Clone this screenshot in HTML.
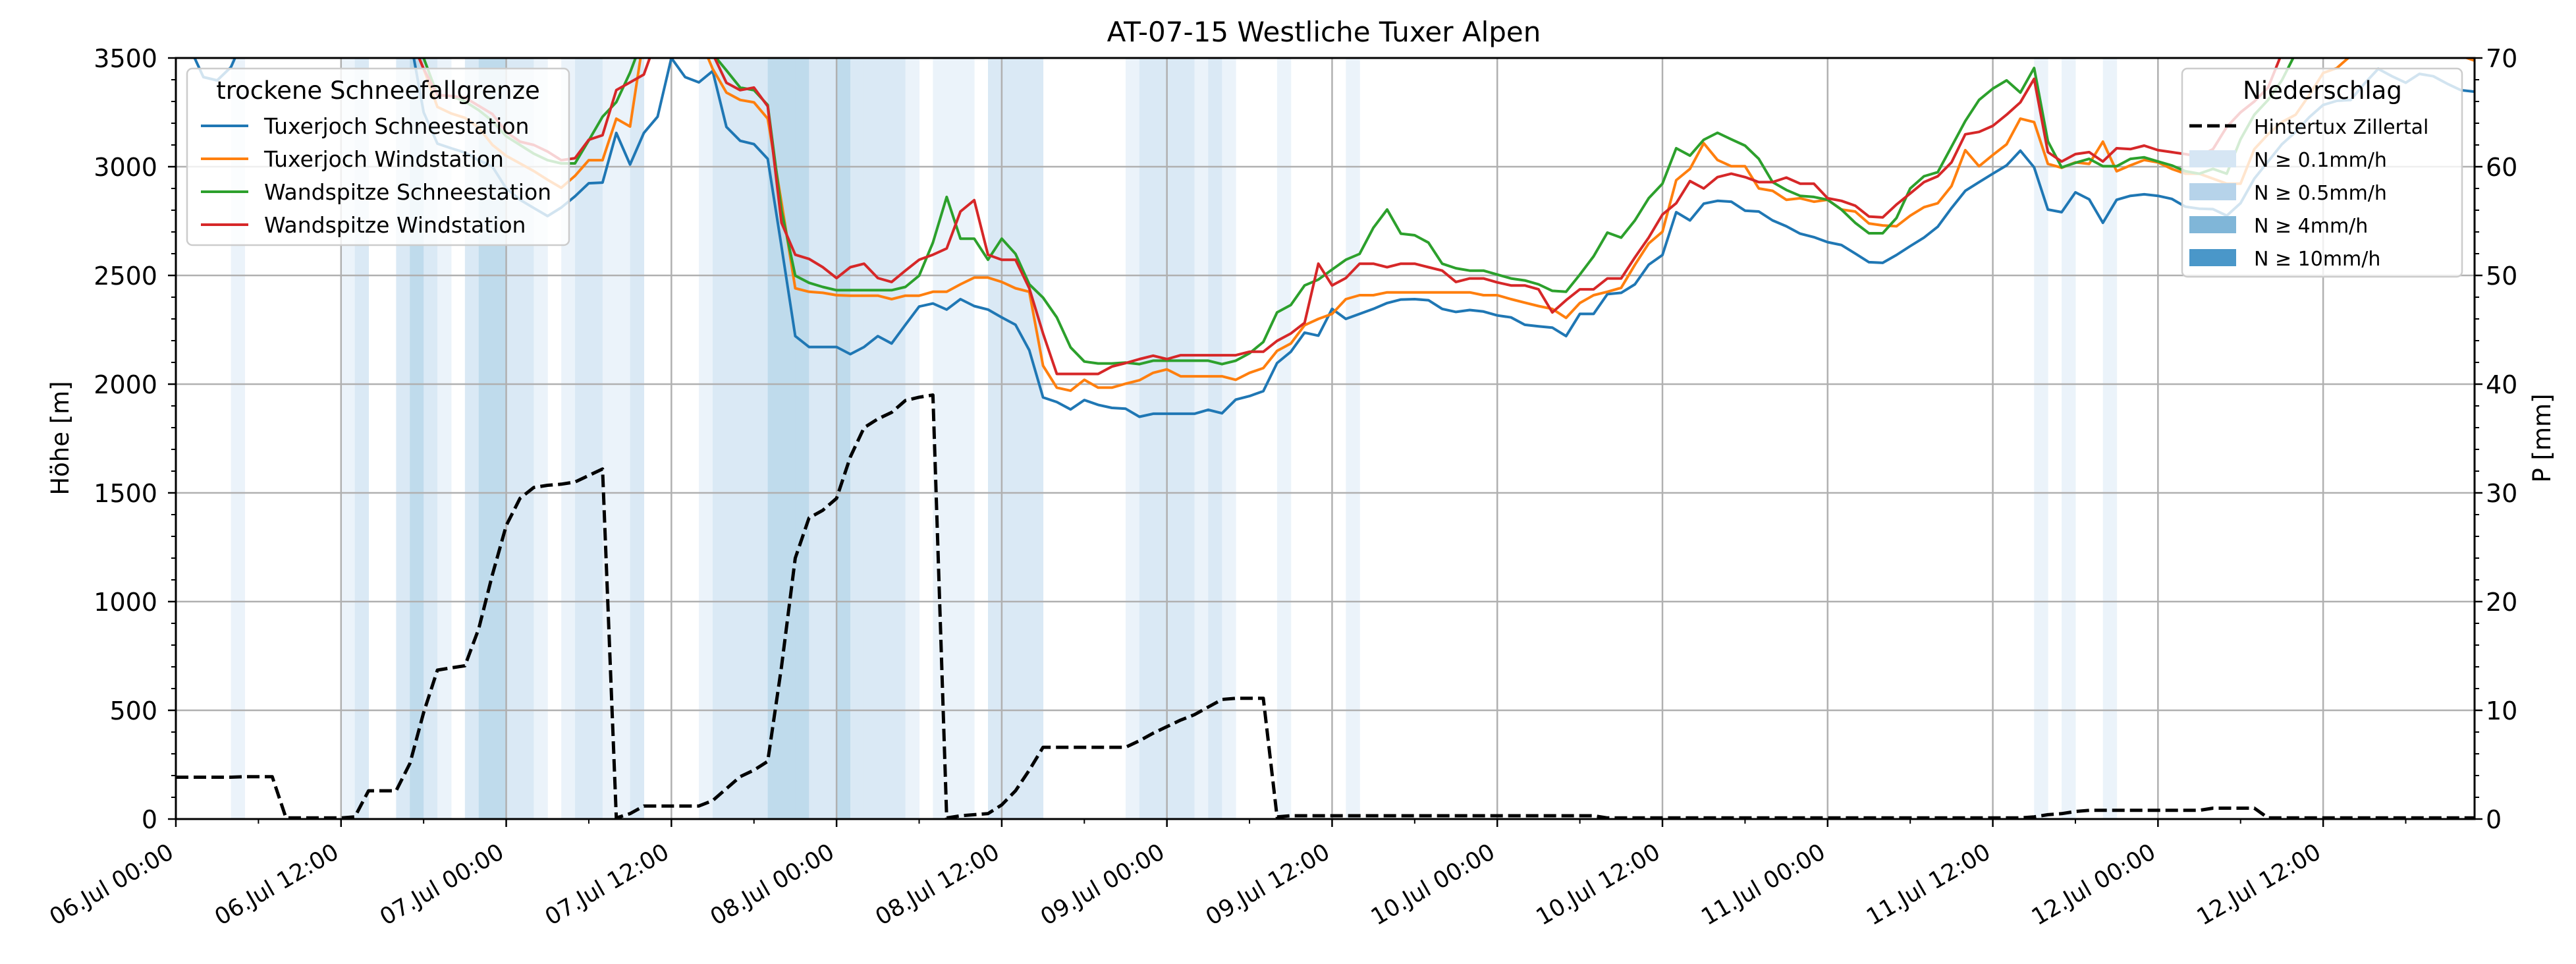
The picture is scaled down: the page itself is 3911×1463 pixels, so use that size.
<!DOCTYPE html>
<html><head><meta charset="utf-8"><title>AT-07-15 Westliche Tuxer Alpen</title>
<style>
html,body{margin:0;padding:0;background:#fff;}
svg{display:block;font-family:"DejaVu Sans","Liberation Sans",sans-serif;}
</style></head>
<body>
<svg id="chart" width="3911" height="1463" viewBox="0 0 3911 1463" xmlns="http://www.w3.org/2000/svg">
<defs><clipPath id="plotclip"><rect x="267" y="88" width="3490" height="1155"/></clipPath></defs>
<rect x="0" y="0" width="3911" height="1463" fill="#fff"/>
<text x="2010" y="63" font-size="42" text-anchor="middle">AT-07-15 Westliche Tuxer Alpen</text>
<g id="spans" clip-path="url(#plotclip)"></g>
<g id="grid"></g>
<g id="series" clip-path="url(#plotclip)"></g>
<g id="axes"></g>
<text x="0" y="0" font-size="37" text-anchor="middle" transform="translate(104,665) rotate(-90)">Höhe [m]</text>
<text x="0" y="0" font-size="37" text-anchor="middle" transform="translate(3872,665) rotate(-90)">P [mm]</text>

<g>
<rect x="284" y="104" width="580" height="268" rx="8" fill="#fff" fill-opacity="0.8" stroke="#cccccc" stroke-width="2.5"/>
<text x="574" y="150" font-size="37" text-anchor="middle">trockene Schneefallgrenze</text>
<g><line x1="305" y1="191" x2="377" y2="191" stroke="#1f77b4" stroke-width="4"/><text x="401" y="203" font-size="33">Tuxerjoch Schneestation</text></g>
<g><line x1="305" y1="241" x2="377" y2="241" stroke="#ff7f0e" stroke-width="4"/><text x="401" y="253" font-size="33">Tuxerjoch Windstation</text></g>
<g><line x1="305" y1="291" x2="377" y2="291" stroke="#2ca02c" stroke-width="4"/><text x="401" y="303" font-size="33">Wandspitze Schneestation</text></g>
<g><line x1="305" y1="341" x2="377" y2="341" stroke="#d62728" stroke-width="4"/><text x="401" y="353" font-size="33">Wandspitze Windstation</text></g>
</g>

<g>
<rect x="3313" y="104" width="425" height="316" rx="8" fill="#fff" fill-opacity="0.8" stroke="#cccccc" stroke-width="2.5"/>
<text x="3526" y="150" font-size="37" text-anchor="middle">Niederschlag</text>
<g><line x1="3324" y1="191" x2="3395" y2="191" stroke="#000" stroke-width="5" stroke-dasharray="19,8"/><text x="3422" y="203" font-size="30">Hintertux Zillertal</text></g>
<g><rect x="3324" y="228" width="71" height="26" fill="#d6e6f4"/><text x="3422" y="253" font-size="30">N ≥ 0.1mm/h</text></g>
<g><rect x="3324" y="278" width="71" height="26" fill="#b6d3ea"/><text x="3422" y="303" font-size="30">N ≥ 0.5mm/h</text></g>
<g><rect x="3324" y="328" width="71" height="26" fill="#80b6d8"/><text x="3422" y="353" font-size="30">N ≥ 4mm/h</text></g>
<g><rect x="3324" y="378" width="71" height="26" fill="#4a97c9"/><text x="3422" y="403" font-size="30">N ≥ 10mm/h</text></g>
</g>
</svg>
<script>
const hours = Array.from({length:168},(_, i)=>i);
const yTicks = [0,500,1000,1500,2000,2500,3000,3500];
const y2Ticks = [0,10,20,30,40,50,60,70];
const xTickHours = [0,12,24,36,48,60,72,84,96,108,120,132,144,156];
const xTickLabels = ["06.Jul 00:00","06.Jul 12:00","07.Jul 00:00","07.Jul 12:00","08.Jul 00:00","08.Jul 12:00","09.Jul 00:00","09.Jul 12:00","10.Jul 00:00","10.Jul 12:00","11.Jul 00:00","11.Jul 12:00","12.Jul 00:00","12.Jul 12:00"];

const tuxSchnee = [
3600,3550,3412,3397,3458,3600,3600,3600,3600,3600,3600,3600,
3600,3600,3600,3600,3600,3600,3250,3106,3085,3065,3030,3000,
2900,2848,2810,2773,2812,2864,2924,2927,3155,3010,3155,3230,
3500,3412,3388,3440,3183,3119,3104,3036,2633,2221,2171,2171,
2171,2138,2171,2221,2187,2273,2357,2371,2343,2391,2359,2343,
2307,2273,2156,1939,1918,1884,1927,1905,1891,1887,1850,1864,
1864,1864,1864,1882,1866,1929,1945,1968,2097,2149,2237,2223,
2346,2300,2323,2346,2373,2389,2391,2386,2346,2332,2341,2334,
2316,2307,2273,2266,2260,2221,2323,2323,2414,2420,2459,2549,
2594,2791,2753,2830,2843,2839,2798,2794,2753,2726,2692,2676,
2653,2640,2601,2561,2558,2594,2635,2674,2724,2810,2889,2929,
2968,3006,3074,2997,2803,2791,2882,2850,2742,2848,2866,2873,
2866,2852,2816,2807,2805,2775,2832,2945,3024,3103,3160,3228,
3284,3303,3307,3382,3450,3416,3386,3427,3416,3382,3352,3345];
const tuxWind = [
3600,3600,3600,3600,3600,3600,3600,3600,3600,3600,3600,3600,
3600,3600,3600,3600,3600,3600,3450,3275,3245,3225,3180,3100,
3050,3015,2980,2940,2903,2958,3030,3030,3221,3185,3600,3600,
3600,3600,3600,3450,3341,3307,3296,3221,2836,2441,2425,2420,
2409,2407,2407,2407,2391,2407,2407,2425,2425,2459,2490,2490,
2470,2441,2425,2085,1984,1970,2020,1984,1984,2002,2018,2052,
2068,2036,2036,2036,2036,2020,2052,2074,2153,2187,2271,2300,
2323,2391,2409,2409,2422,2422,2422,2422,2422,2422,2422,2409,
2409,2391,2375,2359,2346,2305,2373,2409,2425,2443,2549,2647,
2701,2938,2990,3108,3031,3002,3002,2900,2889,2848,2855,2839,
2848,2803,2794,2739,2730,2726,2775,2814,2832,2911,3076,3002,
3054,3103,3221,3205,3013,2995,3020,3013,3115,2979,3006,3031,
3020,2990,2968,2968,2945,2922,2922,3081,3149,3205,3239,3330,
3431,3454,3510,3600,3600,3600,3600,3600,3600,3600,3510,3488];
const wandSchnee = [
3600,3600,3600,3600,3600,3600,3600,3600,3600,3600,3600,3600,
3600,3600,3600,3600,3600,3600,3500,3330,3325,3300,3260,3210,
3140,3100,3060,3030,3015,3015,3121,3230,3297,3433,3600,3600,
3600,3600,3600,3520,3443,3364,3352,3284,2798,2499,2466,2447,
2432,2432,2432,2432,2432,2447,2499,2651,2861,2669,2669,2572,
2669,2599,2459,2398,2307,2169,2104,2095,2095,2099,2092,2108,
2108,2108,2108,2108,2092,2108,2142,2194,2330,2364,2454,2481,
2527,2572,2599,2719,2803,2692,2685,2651,2554,2533,2522,2522,
2504,2486,2477,2459,2429,2425,2504,2588,2697,2674,2753,2855,
2922,3085,3051,3124,3156,3126,3097,3036,2929,2893,2866,2861,
2848,2803,2742,2694,2694,2764,2900,2956,2975,3092,3210,3307,
3359,3397,3341,3454,3117,2997,3018,3036,3002,3002,3036,3043,
3024,3006,2979,2968,2990,2968,3126,3239,3307,3397,3522,3600,
3600,3600,3600,3600,3600,3600,3600,3600,3600,3600,3600,3600];
const wandWind = [
3600,3600,3600,3600,3600,3600,3600,3600,3600,3600,3600,3600,
3600,3600,3600,3600,3600,3600,3450,3330,3325,3318,3280,3242,
3160,3115,3100,3070,3030,3039,3124,3145,3352,3388,3424,3600,
3600,3600,3600,3520,3386,3352,3364,3278,2742,2595,2576,2538,
2488,2538,2554,2488,2470,2522,2572,2595,2624,2794,2846,2595,
2572,2572,2441,2233,2047,2047,2047,2047,2081,2097,2115,2131,
2115,2133,2133,2133,2133,2133,2149,2149,2199,2233,2282,2554,
2454,2488,2554,2554,2538,2554,2554,2538,2522,2470,2486,2486,
2468,2454,2454,2436,2330,2386,2436,2436,2486,2486,2583,2674,
2780,2832,2934,2900,2952,2968,2952,2929,2929,2950,2922,2922,
2855,2843,2821,2771,2767,2826,2877,2929,2956,3020,3149,3160,
3188,3239,3296,3404,3067,3024,3058,3067,3024,3085,3081,3097,
3076,3067,3058,3047,3081,3183,3250,3300,3364,3522,3600,3600,
3600,3600,3600,3600,3600,3600,3600,3600,3600,3600,3600,3600];
const precipSum = [
3.85,3.85,3.85,3.85,3.85,3.9,3.9,3.9,0.1,0.1,0.1,0.1,
0.1,0.2,2.6,2.6,2.6,5.1,9.8,13.7,13.9,14.1,17.5,22.5,
27,29.5,30.5,30.7,30.8,31,31.6,32.2,0.1,0.5,1.2,1.2,
1.2,1.2,1.2,1.7,2.8,3.9,4.5,5.3,14,24,27.7,28.4,
29.5,33.3,36,36.8,37.4,38.5,38.8,39,0.1,0.3,0.4,0.5,
1.3,2.6,4.5,6.6,6.6,6.6,6.6,6.6,6.6,6.6,7.2,7.9,
8.5,9.1,9.6,10.3,11,11.1,11.1,11.1,0.2,0.3,0.3,0.3,
0.3,0.3,0.3,0.3,0.3,0.3,0.3,0.3,0.3,0.3,0.3,0.3,
0.3,0.3,0.3,0.3,0.3,0.3,0.3,0.3,0.1,0.1,0.1,0.1,
0.1,0.1,0.1,0.1,0.1,0.1,0.1,0.1,0.1,0.1,0.1,0.1,
0.1,0.1,0.1,0.1,0.1,0.1,0.1,0.1,0.1,0.1,0.1,0.1,
0.1,0.1,0.1,0.2,0.4,0.5,0.7,0.8,0.8,0.8,0.8,0.8,
0.8,0.8,0.8,0.8,1.0,1.0,1.0,1.0,0.1,0.1,0.1,0.1,
0.1,0.1,0.1,0.1,0.1,0.1,0.1,0.1,0.1,0.1,0.1,0.1];
const precipRate = [
0,0,0,0,0.3,0,0,0,0,0,0,0,
0.3,1,0,0,1,5,1,0.3,0,1,5,5,
1,1,0.3,0,0.3,1,1,0.3,0.3,1,0,0,
0,0,0.3,1,1,1,1,5,5,5,1,1,
5,1,1,1,1,0.3,0,0.3,0.3,0.3,0,1,
1,1,1,0,0,0,0,0,0,0.3,1,1,
1,1,0.3,1,0.3,0,0,0,0.3,0,0,0,
0,0.3,0,0,0,0,0,0,0,0,0,0,
0,0,0,0,0,0,0,0,0,0,0,0,
0,0,0,0,0,0,0,0,0,0,0,0,
0,0,0,0,0,0,0,0,0,0,0,0,
0,0,0,0.3,0,0.3,0,0,0.3,0,0,0,
0,0,0,0,0,0,0,0,0,0,0,0,
0,0,0,0,0,0,0,0,0,0,0,0];

const NS="http://www.w3.org/2000/svg";
const X0=267, X1=3757, Y0=1243, YT=88, HMAX=167, YMAX=3500, PMAX=70;
function xs(h){return X0+(X1-X0)*h/HMAX;}
function ys(m){return Y0-(Y0-YT)*m/YMAX;}
function yp(p){return Y0-(Y0-YT)*p/PMAX;}
function mk(tag,attrs,parent){const e=document.createElementNS(NS,tag);for(const k in attrs)e.setAttribute(k,attrs[k]);parent.appendChild(e);return e;}

const spansG=document.getElementById('spans');
precipRate.forEach((r,i)=>{
  if(r<0.1||i>=HMAX) return;
  const col = r>=10?'#a4cbe4':(r>=4?'#bfdbec':(r>=0.5?'#dae9f5':'#ebf3fa'));
  const rc=mk('rect',{x:xs(i),y:YT,width:xs(i+1)-xs(i)+0.5,height:Y0-YT,fill:col},spansG);
  
  
});

const gridG=document.getElementById('grid');
yTicks.forEach(v=>{
  const l=mk('line',{x1:X0,x2:X1,y1:ys(v),y2:ys(v),stroke:'#b0b0b0','stroke-width':2.5},gridG);
  
  
});
xTickHours.forEach(h=>{
  const l=mk('line',{x1:xs(h),x2:xs(h),y1:YT,y2:Y0,stroke:'#b0b0b0','stroke-width':2.5},gridG);
  
  
});

const serG=document.getElementById('series');
function poly(arr,scale,color,name,dash){
  const pts=arr.map((v,i)=>xs(hours[i]).toFixed(1)+','+scale(v).toFixed(1)).join(' ');
  const p=mk('polyline',{points:pts,fill:'none',stroke:color,'stroke-width':dash?5:4,'stroke-linejoin':'round'},serG);
  if(dash)p.setAttribute('stroke-dasharray','19,8');
  
  
}
poly(precipSum,yp,'#000','precip-hintertux-line',true);
poly(tuxSchnee,ys,'#1f77b4','line-tuxerjoch-schneestation');
poly(tuxWind,ys,'#ff7f0e','line-tuxerjoch-windstation');
poly(wandSchnee,ys,'#2ca02c','line-wandspitze-schneestation');
poly(wandWind,ys,'#d62728','line-wandspitze-windstation');

const axG=document.getElementById('axes');
const frame=mk('rect',{x:X0,y:YT,width:X1-X0,height:Y0-YT,fill:'none',stroke:'#000','stroke-width':3},axG);


yTicks.forEach(v=>{
  mk('line',{x1:X0-12,x2:X0,y1:ys(v),y2:ys(v),stroke:'#000','stroke-width':2.5},axG);
  const t=mk('text',{x:X0-28,y:ys(v)+14,'font-size':38,'text-anchor':'end'},axG);
  t.textContent=v;
  
  
});
for(let v=100;v<YMAX;v+=100){ if(v%500) mk('line',{x1:X0-7,x2:X0,y1:ys(v),y2:ys(v),stroke:'#000','stroke-width':2},axG); }
y2Ticks.forEach(v=>{
  mk('line',{x1:X1,x2:X1+12,y1:yp(v),y2:yp(v),stroke:'#000','stroke-width':2.5},axG);
  const t=mk('text',{x:X1+17,y:yp(v)+14,'font-size':38,'text-anchor':'start'},axG);
  t.textContent=v;
  
  
});
for(let v=2;v<PMAX;v+=2){ if(v%10) mk('line',{x1:X1,x2:X1+7,y1:yp(v),y2:yp(v),stroke:'#000','stroke-width':2},axG); }
xTickHours.forEach((h,i)=>{
  mk('line',{x1:xs(h),x2:xs(h),y1:Y0,y2:Y0+12,stroke:'#000','stroke-width':2.5},axG);
  const ax=xs(h)-1, ay=1300;
  const t=mk('text',{x:ax,y:ay,'font-size':35,'text-anchor':'end',transform:'rotate(-30 '+ax+' '+ay+')'},axG);
  t.textContent=xTickLabels[i];
  
  
});
for(let h=6;h<=HMAX;h+=12){ mk('line',{x1:xs(h),x2:xs(h),y1:Y0,y2:Y0+7,stroke:'#000','stroke-width':2},axG); }
</script>
</body></html>
